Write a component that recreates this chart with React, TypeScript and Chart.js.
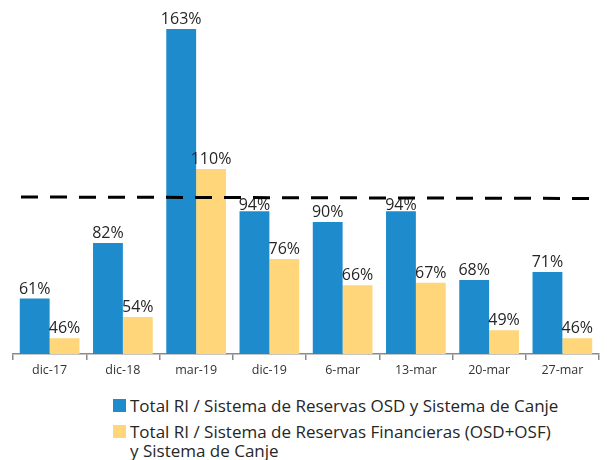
import React, { useEffect, useRef } from "react";
import { Chart, registerables } from "chart.js";

Chart.register(...registerables);

const categories = ["dic-17", "dic-18", "mar-19", "dic-19", "6-mar", "13-mar", "20-mar", "27-mar"];
const seriesOSD = [61, 82, 163, 94, 90, 94, 68, 71];
const seriesFin = [46, 54, 110, 76, 66, 67, 49, 46];
const seriesNames = [
  "Total RI / Sistema de Reservas OSD y Sistema de Canje",
  "Total RI / Sistema de Reservas Financieras (OSD+OSF) y Sistema de Canje",
];
const legendLines = [
  ["Total RI / Sistema de Reservas OSD y Sistema de Canje"],
  ["Total RI / Sistema de Reservas Financieras (OSD+OSF)", "y Sistema de Canje"],
];
const thresholdValue = 100;
const yMin = 40;
const yMax = 174;

const BLUE = "#1E8CCC";
const YELLOW = "#FFD679";
const FONT = "'Open Sans', 'DejaVu Sans', sans-serif";

const valueLabels = {
  id: "valueLabels",
  afterDatasetsDraw(chart: any) {
    const ctx = chart.ctx;
    const lineY = chart.scales.y.getPixelForValue(thresholdValue) + 2;
    ctx.save();
    ctx.font = `16px ${FONT}`;
    ctx.fillStyle = "#262626";
    ctx.textAlign = "center";
    ctx.textBaseline = "alphabetic";
    chart.data.datasets.forEach((ds: any, i: number) => {
      const meta = chart.getDatasetMeta(i);
      meta.data.forEach((bar: any, j: number) => {
        let base = bar.y - 5;
        const top = base - 12;
        if (top < lineY + 3 && base > lineY - 3) base = bar.y - 1;
        ctx.fillText(ds.data[j] + "%", bar.x, base);
      });
    });
    ctx.restore();
  },
};

const thresholdLine = {
  id: "thresholdLine",
  afterDatasetsDraw(chart: any) {
    const { ctx, chartArea, scales } = chart;
    const y = scales.y.getPixelForValue(thresholdValue);
    ctx.save();
    ctx.strokeStyle = "#000";
    ctx.lineWidth = 3;
    ctx.setLineDash([17, 12]);
    ctx.beginPath();
    ctx.moveTo(chartArea.left + 8, y + 1.5);
    ctx.lineTo(chartArea.right - 6, y + 3);
    ctx.stroke();
    ctx.restore();
  },
};

export default function App() {
  const ref = useRef<HTMLCanvasElement>(null);
  useEffect(() => {
    document.body.style.margin = "0";
    const chart = new Chart(ref.current!, {
      type: "bar",
      data: {
        labels: categories,
        datasets: [
          { label: seriesNames[0], data: seriesOSD, backgroundColor: BLUE, categoryPercentage: 0.815, barPercentage: 1 },
          { label: seriesNames[1], data: seriesFin, backgroundColor: YELLOW, categoryPercentage: 0.815, barPercentage: 1 },
        ],
      },
      options: {
        animation: false,
        responsive: false,
        layout: { padding: { left: 13, right: 8, top: 0, bottom: 0 } },
        plugins: { legend: { display: false }, tooltip: { enabled: false } },
        scales: {
          x: {
            grid: { drawOnChartArea: false, drawTicks: true, tickLength: 6, color: "#8a8a8a", lineWidth: 1.5 },
            border: { color: "#8a8a8a", width: 1.5 },
            ticks: { color: "#333", font: { family: FONT, size: 12.5 }, padding: 3 },
          },
          y: { display: false, min: yMin, max: yMax },
        },
      },
      plugins: [valueLabels, thresholdLine],
    });
    return () => chart.destroy();
  }, []);

  return (
    <div style={{ position: "relative", width: 607, height: 460, fontFamily: FONT }}>
      <canvas ref={ref} width={607} height={381} style={{ display: "block" }} />
      <div style={{ position: "absolute", left: 113, top: 396, color: "#262626", fontSize: 17 }}>
        {legendLines.map((lines, i) => (
          <div key={i} style={{ display: "flex", alignItems: "flex-start", marginBottom: 7 }}>
            <span style={{ width: 13, height: 13, background: i === 0 ? BLUE : YELLOW, marginTop: 3, marginRight: 4, flex: "none" }} />
            <div>
              {lines.map((l, k) => (
                <div key={k} style={{ lineHeight: "19px", whiteSpace: "nowrap" }}>{l}</div>
              ))}
            </div>
          </div>
        ))}
      </div>
    </div>
  );
}
